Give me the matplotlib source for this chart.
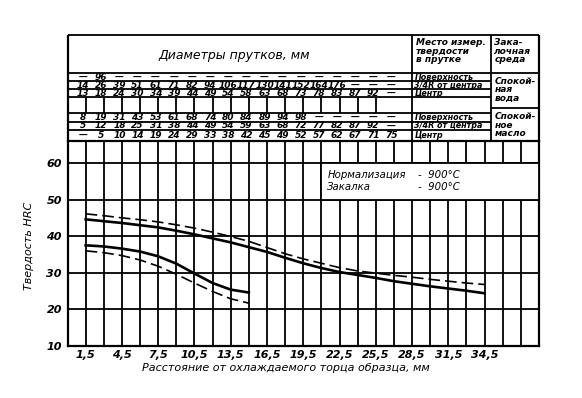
import numpy as np
import matplotlib.pyplot as plt
from matplotlib.patches import Rectangle

plt.rcParams['font.family'] = ['Liberation Sans Narrow', 'DejaVu Sans']

# distance from quenched end, mm / hardness HRC
x_upper = [1.5, 3.0, 4.5, 6.0, 7.5, 9.0, 10.5, 12.0, 13.5, 15.0, 16.5, 18.0,
           19.5, 21.0, 22.5, 24.0, 25.5, 27.0, 28.5, 30.0, 31.5, 33.0, 34.5]
upper_solid = [44.6, 44.1, 43.6, 43.0, 42.4, 41.5, 40.5, 39.4, 38.3, 37.0, 35.7, 34.1,
               32.6, 31.3, 30.2, 29.4, 28.6, 27.7, 27.0, 26.3, 25.7, 25.1, 24.4]
upper_dash = [46.1, 45.6, 45.0, 44.5, 43.9, 43.1, 42.2, 41.1, 39.9, 38.6, 36.9, 35.2,
              33.8, 32.6, 31.4, 30.5, 29.9, 29.3, 28.8, 28.2, 27.7, 27.2, 26.8]

x_lower = [1.5, 3.0, 4.5, 6.0, 7.5, 9.0, 10.5, 12.0, 13.5, 15.0]
lower_solid = [37.5, 37.2, 36.6, 35.8, 34.5, 32.5, 29.8, 27.2, 25.4, 24.6]
lower_dash = [36.0, 35.5, 34.7, 33.5, 31.8, 29.6, 27.2, 24.9, 22.9, 21.7]

x_ticks = [1.5, 4.5, 7.5, 10.5, 13.5, 16.5, 19.5, 22.5, 25.5, 28.5, 31.5, 34.5]
x_ticklabels = ['1,5', '4,5', '7,5', '10,5', '13,5', '16,5', '19,5', '22,5',
                '25,5', '28,5', '31,5', '34,5']
y_ticks = [10, 20, 30, 40, 50, 60]

# bar diameters table (columns at 1.5 mm steps)
table_x = [1.5 * k for k in range(1, 19)]
water_surface = ['—', '96'] + ['—'] * 16
water_34r = ['14', '26', '39', '51', '61', '71', '82', '94', '106', '117', '130', '141',
             '152', '164', '176', '—', '—', '—']
water_center = ['13', '18', '24', '30', '34', '39', '44', '49', '54', '58', '63', '68',
                '73', '78', '83', '87', '92', '—']
oil_surface = ['8', '19', '31', '43', '53', '61', '68', '74', '80', '84', '89', '94',
               '98', '—', '—', '—', '—', '—']
oil_34r = ['5', '12', '18', '25', '31', '38', '44', '49', '54', '59', '63', '68',
           '72', '77', '82', '87', '92', '—']
oil_center = ['—', '5', '10', '14', '19', '24', '29', '33', '38', '42', '45', '49',
              '52', '57', '62', '67', '71', '75']
place_labels = ['Поверхность', '3/4R от центра', 'Центр']

W_PX, H_PX = 582, 398
left, right = 67.5, 539
bottom, mid, top = 346, 141, 35

fig = plt.figure(figsize=(W_PX / 100, H_PX / 100), dpi=100)
ax = fig.add_axes([left / W_PX, (H_PX - bottom) / H_PX,
                   (right - left) / W_PX, (bottom - mid) / H_PX])
tab = fig.add_axes([left / W_PX, (H_PX - mid) / H_PX,
                    (right - left) / W_PX, (mid - top) / H_PX])

lw_grid = 1.3
fs_num = 6.5

# --- chart ---
ax.set_xlim(0, 39)
ax.set_ylim(10, 66)
for gx in np.arange(1.5, 39, 1.5):
    ax.axvline(gx, color='black', lw=lw_grid, zorder=1)
for gy in y_ticks[1:]:
    ax.axhline(gy, color='black', lw=lw_grid, zorder=1)
for s in ax.spines.values():
    s.set_linewidth(1.6)

ax.plot(x_upper, upper_solid, color='black', lw=1.9, zorder=5)
ax.plot(x_upper, upper_dash, color='black', lw=1.2, dashes=(7, 3), zorder=5)
ax.plot(x_lower, lower_solid, color='black', lw=1.9, zorder=5)
ax.plot(x_lower, lower_dash, color='black', lw=1.2, dashes=(7, 3), zorder=5)

ax.set_xticks(x_ticks)
ax.set_xticklabels(x_ticklabels, fontsize=8, style='italic', fontweight='bold')
ax.set_yticks(y_ticks)
ax.set_yticklabels([str(v) for v in y_ticks], fontsize=8, style='italic', fontweight='bold')
ax.tick_params(length=0, pad=4)
ax.tick_params(axis='x', pad=3)

ax.set_xlabel('Расстояние от охлаждаемого торца образца, мм', fontsize=8, style='italic')
ax.xaxis.set_label_coords(0.463, -0.085)
ax.set_ylabel('Твердость HRC', fontsize=8, style='italic')
ax.yaxis.set_label_coords(-0.072, 0.49)

ax.add_patch(Rectangle((21, 50), 18, 10, facecolor='white', edgecolor='black',
                       lw=lw_grid, zorder=3, clip_on=False))
ax.text(21.5, 56.8, 'Нормализация', fontsize=7.3, style='italic', va='center', zorder=4)
ax.text(21.5, 53.4, 'Закалка', fontsize=7.3, style='italic', va='center', zorder=4)
ax.text(29.0, 56.8, '-  900°C', fontsize=7.3, style='italic', va='center', zorder=4)
ax.text(29.0, 53.4, '-  900°C', fontsize=7.3, style='italic', va='center', zorder=4)

# --- table ---
tab.set_xlim(0, 39)
tab.set_ylim(mid, top)
tab.axis('off')
kw = dict(color='black', lw=lw_grid, clip_on=False)
tab.hlines([top, 73], 0, 39, **kw)
tab.hlines([81, 89, 97, 113, 122, 130], 0, 35, **kw)
tab.hlines(108, 35, 39, **kw)
tab.vlines([28.5, 35], top, mid, **kw)
tab.vlines([0, 39], top, mid, color='black', lw=1.6, clip_on=False)
tab.vlines(table_x[:-1], 97, 113, **kw)

tab.text(13.8, 55, 'Диаметры прутков, мм', fontsize=9, style='italic',
         ha='center', va='center')
tab.text(28.8, 38, 'Место измер.\nтвердости\nв прутке', fontsize=6.5, style='italic',
         fontweight='bold', ha='left', va='top', linespacing=0.95)
tab.text(35.3, 38, 'Зака-\nлочная\nсреда', fontsize=6.5, style='italic',
         fontweight='bold', ha='left', va='top', linespacing=0.95)
tab.text(35.3, 90, 'Спокой-\nная\nвода', fontsize=6.5, style='italic', fontweight='bold',
         ha='left', va='center', linespacing=0.95)
tab.text(35.3, 125, 'Спокой-\nное\nмасло', fontsize=6.5, style='italic', fontweight='bold',
         ha='left', va='center', linespacing=0.95)

rows = [(77, water_surface), (85, water_34r), (93, water_center),
        (117.5, oil_surface), (126, oil_34r), (135.5, oil_center)]
for i, (yc, vals) in enumerate(rows):
    for xv, v in zip(table_x, vals):
        tab.text(xv - 0.2, yc, v, fontsize=fs_num, style='italic', fontweight='bold',
                 ha='center', va='center')
    tab.text(28.7, yc, place_labels[i % 3], fontsize=5.8, style='italic',
             fontweight='bold', ha='left', va='center')

fig.savefig('out.png', dpi=100)
